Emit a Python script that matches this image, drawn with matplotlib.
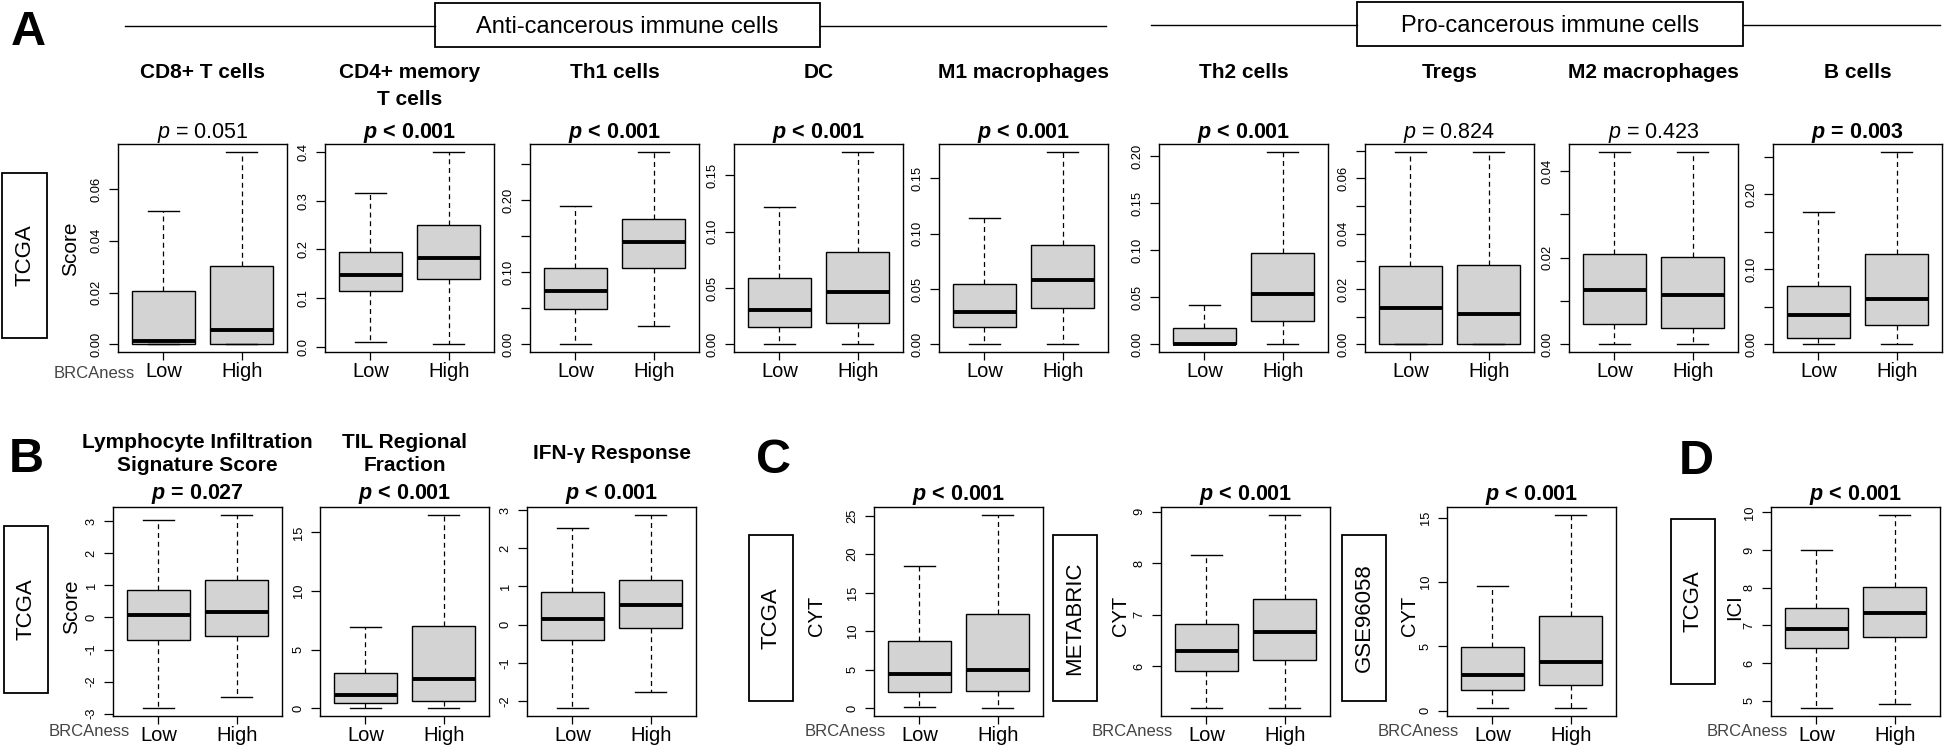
import matplotlib
matplotlib.use("Agg")
import matplotlib.pyplot as plt
from matplotlib.patches import Rectangle

plt.rcParams['font.family'] = ['Liberation Sans', 'DejaVu Sans']
plt.rcParams['mathtext.fontset'] = 'custom'
plt.rcParams['mathtext.rm'] = 'Liberation Sans'
plt.rcParams['mathtext.it'] = 'Liberation Sans:italic'
plt.rcParams['mathtext.bf'] = 'Liberation Sans:bold'
plt.rcParams['mathtext.bfit'] = 'Liberation Sans:italic:bold'

groups = ["Low", "High"]

# box stats per group: [whisker low, Q1, median, Q3, whisker high]

# A - immune cell scores, TCGA
a_titles = ["CD8+ T cells", "CD4+ memory\nT cells", "Th1 cells", "DC", "M1 macrophages",
            "Th2 cells", "Tregs", "M2 macrophages", "B cells"]
a_pvals = ["= 0.051", "< 0.001", "< 0.001", "< 0.001", "< 0.001",
           "< 0.001", "= 0.824", "= 0.423", "= 0.003"]
a_sig = [False, True, True, True, True, True, False, False, True]
a_low = [
    [0.0, 0.0, 0.0013, 0.0205, 0.0514],
    [0.011, 0.1155, 0.148, 0.1955, 0.316],
    [0.0, 0.0486, 0.074, 0.106, 0.1917],
    [0.0, 0.0151, 0.0305, 0.0587, 0.122],
    [0.0, 0.0154, 0.0295, 0.0545, 0.1138],
    [0.0, 0.0, 0.0007, 0.017, 0.0415],
    [0.0, 0.0, 0.013, 0.0284, 0.0696],
    [0.0, 0.0048, 0.0125, 0.0208, 0.0445],
    [0.0, 0.008, 0.0386, 0.0782, 0.176],
]
a_high = [
    [0.0, 0.0, 0.0054, 0.0303, 0.0744],
    [0.006, 0.139, 0.183, 0.250, 0.400],
    [0.0255, 0.1056, 0.142, 0.174, 0.267],
    [0.0, 0.0187, 0.046, 0.0821, 0.171],
    [0.0, 0.0331, 0.0584, 0.0898, 0.174],
    [0.0, 0.0245, 0.0539, 0.0968, 0.205],
    [0.0, 0.0, 0.0108, 0.0287, 0.0696],
    [0.0, 0.0038, 0.0115, 0.0202, 0.0445],
    [0.0, 0.0258, 0.0608, 0.121, 0.2567],
]
a_ticks = [
    [0, 0.02, 0.04, 0.06],
    [0, 0.1, 0.2, 0.3, 0.4],
    [0, 0.05, 0.10, 0.15, 0.20, 0.25],
    [0, 0.05, 0.10, 0.15],
    [0, 0.05, 0.10, 0.15],
    [0, 0.05, 0.10, 0.15, 0.20],
    [0, 0.01, 0.02, 0.03, 0.04, 0.05, 0.06, 0.07],
    [0, 0.01, 0.02, 0.03, 0.04],
    [0, 0.05, 0.10, 0.15, 0.20, 0.25],
]
a_ticklabels = [
    ["0.00", "0.02", "0.04", "0.06"],
    ["0.0", "0.1", "0.2", "0.3", "0.4"],
    ["0.00", "", "0.10", "", "0.20", ""],
    ["0.00", "0.05", "0.10", "0.15"],
    ["0.00", "0.05", "0.10", "0.15"],
    ["0.00", "0.05", "0.10", "0.15", "0.20"],
    ["0.00", "", "0.02", "", "0.04", "", "0.06", ""],
    ["0.00", "", "0.02", "", "0.04"],
    ["0.00", "", "0.10", "", "0.20", ""],
]

# B - infiltration signatures, TCGA
b_titles = ["Lymphocyte Infiltration\nSignature Score", "TIL Regional\nFraction", "IFN-γ Response"]
b_pvals = ["= 0.027", "< 0.001", "< 0.001"]
b_low = [
    [-2.83, -0.69, 0.07, 0.85, 3.04],
    [0.0, 0.43, 1.11, 3.0, 6.93],
    [-2.19, -0.39, 0.14, 0.85, 2.54],
]
b_high = [
    [-2.47, -0.59, 0.18, 1.16, 3.20],
    [0.0, 0.63, 2.48, 6.99, 16.5],
    [-1.77, -0.10, 0.52, 1.16, 2.88],
]
b_ticks = [[-3, -2, -1, 0, 1, 2, 3], [0, 5, 10, 15], [-2, -1, 0, 1, 2, 3]]

# C - cytolytic activity in three cohorts
c_cohorts = ["TCGA", "METABRIC", "GSE96058"]
c_pvals = ["< 0.001", "< 0.001", "< 0.001"]
c_low = [
    [0.1, 2.05, 4.44, 8.67, 18.5],
    [5.19, 5.92, 6.29, 6.83, 8.16],
    [0.18, 1.62, 2.79, 4.93, 9.65],
]
c_high = [
    [0.0, 2.18, 5.0, 12.2, 25.1],
    [5.19, 6.13, 6.67, 7.30, 8.94],
    [0.18, 1.96, 3.76, 7.33, 15.23],
]
c_ticks = [[0, 5, 10, 15, 20, 25], [6, 7, 8, 9], [0, 5, 10, 15]]

# D - immune checkpoint index, TCGA
d_pval = "< 0.001"
d_low = [4.80, 6.40, 6.90, 7.45, 9.01]
d_high = [4.91, 6.70, 7.34, 8.03, 9.94]
d_ticks = [5, 6, 7, 8, 9, 10]

W, H = 1944, 748
AW = 169
fig = plt.figure(figsize=(W / 100, H / 100), dpi=100)

# overlay in pixel coordinates for labels, headers, frames
ov = fig.add_axes([0, 0, 1, 1])
ov.set_xlim(0, W)
ov.set_ylim(H, 0)
ov.axis('off')


def ctext(x, y, s, size, **kw):
    # y is the centre of the capitals
    ov.text(x, y + 0.716 * size * 100 / 72 / 2, s, fontsize=size,
            ha='center', va='baseline', **kw)


def ptext(x, y, rest, bold):
    if bold:
        ctext(x, y, r"$\mathbfit{p}$ " + rest, 15.5, fontweight='bold')
    else:
        ctext(x, y, r"$\mathit{p}$ " + rest, 15.5)


def box_panel(x0, top, height, low, high, ticks, labels=None):
    ax = fig.add_axes([x0 / W, 1 - (top + height) / H, AW / W, height / H])
    stats = []
    for s in (low, high):
        stats.append(dict(whislo=s[0], q1=s[1], med=s[2], q3=s[3], whishi=s[4], fliers=[]))
    ax.bxp(stats, positions=[1, 2], widths=0.8, patch_artist=True, showfliers=False,
           manage_ticks=False,
           boxprops=dict(facecolor='#d3d3d3', edgecolor='black', linewidth=1.0),
           whiskerprops=dict(color='black', linestyle=(0, (4, 3)), linewidth=0.9),
           capprops=dict(color='black', linewidth=1.0),
           medianprops=dict(color='black', linewidth=2.8, solid_capstyle='butt'))
    ax.set_xlim(0.42, 2.58)
    lo = min(low[0], high[0])
    hi = max(low[4], high[4])
    pad = 0.04 * (hi - lo)
    ax.set_ylim(lo - pad, hi + pad)
    ax.set_yticks(ticks)
    if labels is None:
        labels = [str(t) for t in ticks]
    ax.set_yticklabels(labels, rotation=90, va='center', fontsize=9.3)
    ax.set_xticks([1, 2])
    ax.set_xticklabels(groups, fontsize=14.5)
    ax.tick_params(axis='y', length=6.5, width=0.9, pad=4.5)
    ax.tick_params(axis='x', length=5.8, width=0.9, pad=1.5)
    for sp in ax.spines.values():
        sp.set_linewidth(1.0)
    return ax


def frame_label(x, y, w, h, s):
    ov.add_patch(Rectangle((x, y), w, h, fill=False, lw=1.3, ec='black'))
    ov.text(x + w / 2, y + h / 2, s, rotation=90, fontsize=16, ha='center', va='center')


def brca(x, y):
    ov.text(x, y, "BRCAness", fontsize=12, color='#444444', ha='right', va='center')


# ---- row A ----
a_left = [118, 325, 530, 734, 939, 1159, 1365, 1569, 1773]
for i in range(9):
    box_panel(a_left[i], 144, 208, a_low[i], a_high[i], a_ticks[i], a_ticklabels[i])
    xc = a_left[i] + AW / 2
    for j, line in enumerate(a_titles[i].split("\n")):
        ctext(xc, 71 + 27 * j, line, 15, fontweight='bold')
    ptext(xc, 130, a_pvals[i], a_sig[i])

ctext(28, 28, "A", 35, fontweight='heavy')
# group headers
ov.plot([125, 435], [26, 26], color='black', lw=1)
ov.add_patch(Rectangle((435, 3), 385, 44, fill=False, lw=1.3, ec='black'))
ctext(627.5, 25, "Anti-cancerous immune cells", 17)
ov.plot([820, 1106], [26, 26], color='black', lw=1)
ov.plot([1151, 1357], [25, 25], color='black', lw=1)
ov.add_patch(Rectangle((1357, 2), 386, 44, fill=False, lw=1.3, ec='black'))
ctext(1550, 24, "Pro-cancerous immune cells", 17)
ov.plot([1743, 1940], [25, 25], color='black', lw=1)

frame_label(2, 173, 45, 165, "TCGA")
ov.text(71, 249, "Score", rotation=90, fontsize=15, ha='center', va='center')
brca(118 + 17, 373)

# ---- row B ----
b_left = [113, 320, 527]
for i in range(3):
    box_panel(b_left[i], 507, 209, b_low[i], b_high[i], b_ticks[i])
    xc = b_left[i] + AW / 2
    lines = b_titles[i].split("\n")
    y0 = 452 - (len(lines) - 1) * 23 / 2
    for j, line in enumerate(lines):
        ctext(xc, y0 + 23 * j, line, 15, fontweight='bold')
    ptext(xc, 491, b_pvals[i], True)
ctext(26, 455, "B", 35, fontweight='heavy')
frame_label(4, 526, 44, 167, "TCGA")
ov.text(72, 607, "Score", rotation=90, fontsize=15, ha='center', va='center')
brca(113 + 17, 732)

# ---- row C ----
c_left = [874, 1161, 1447]
c_frame = [749, 1053, 1342]
for i in range(3):
    box_panel(c_left[i], 507, 209, c_low[i], c_high[i], c_ticks[i])
    ptext(c_left[i] + AW / 2, 492, c_pvals[i], True)
    frame_label(c_frame[i], 535, 44, 166, c_cohorts[i])
    ov.text(c_frame[i] + 67, 616, "CYT", rotation=90, fontsize=14.5, ha='center', va='center')
    brca(c_left[i] + 12, 732)
ctext(773, 456, "C", 35, fontweight='heavy')

# ---- row D ----
box_panel(1771, 507, 209, d_low, d_high, d_ticks)
ptext(1771 + AW / 2, 492, d_pval, True)
frame_label(1671, 519, 44, 165, "TCGA")
ov.text(1735, 607, "ICI", rotation=90, fontsize=14.5, ha='center', va='center')
brca(1771 + 17, 732)
ctext(1696, 457, "D", 35, fontweight='heavy')

fig.savefig("out.png", dpi=100)
